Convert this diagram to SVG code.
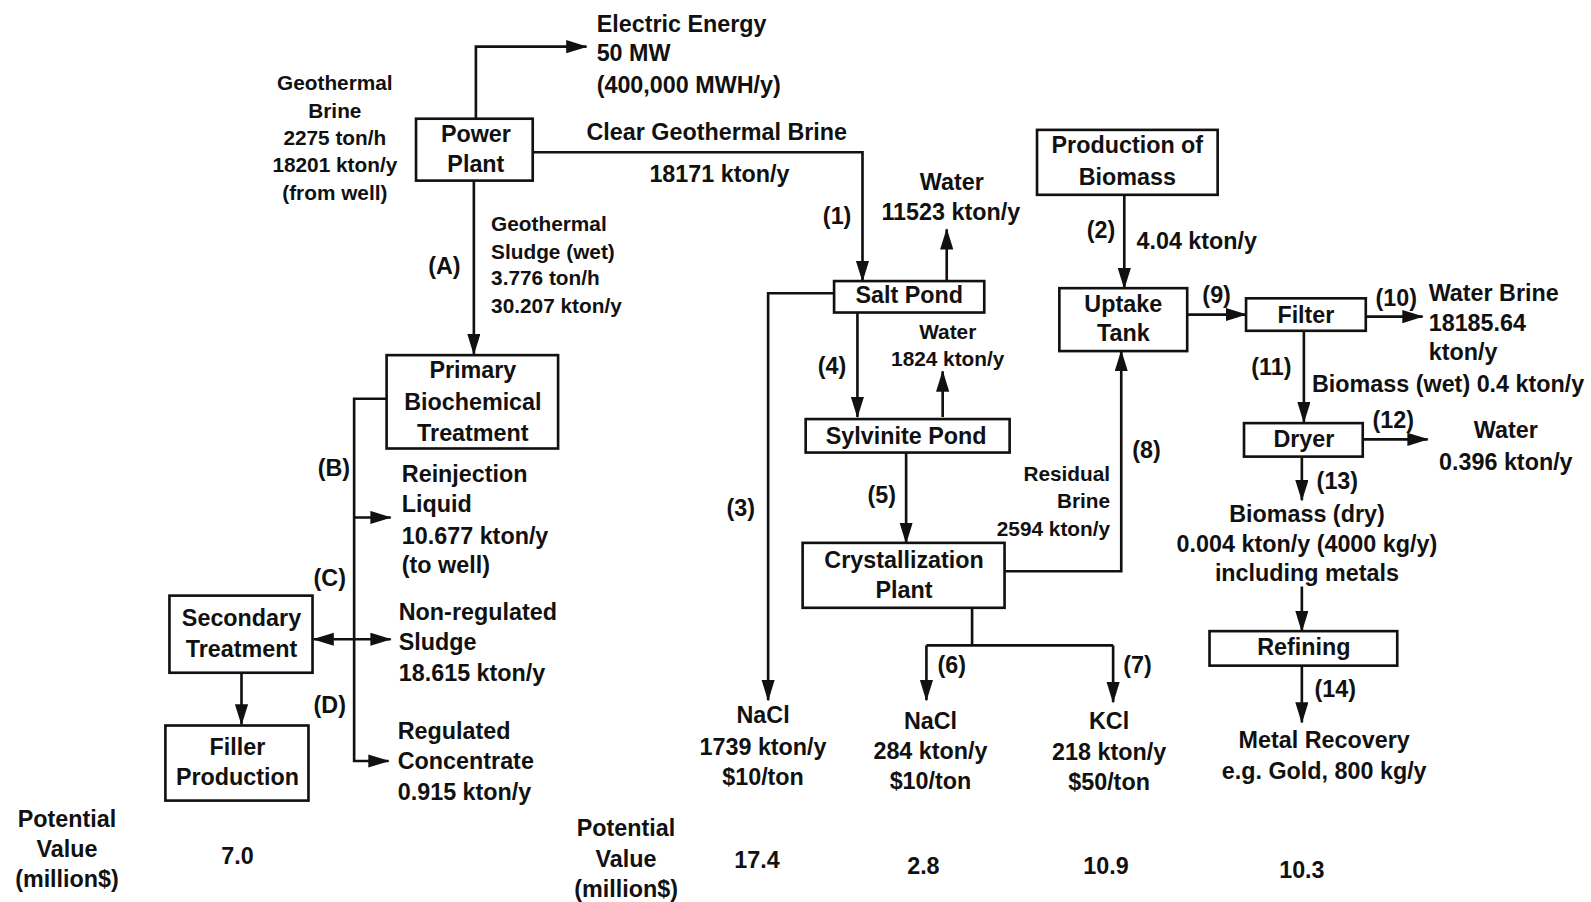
<svg xmlns="http://www.w3.org/2000/svg" width="1591" height="902" viewBox="0 0 1591 902">
<style>
text{font-family:"Liberation Sans",Arial,sans-serif;font-weight:bold;fill:#111;}
.t{font-size:23px;}
.s{font-size:20.5px;}
.c{text-anchor:middle;}
.r{text-anchor:end;}
.box{fill:#fff;stroke:#111;stroke-width:2.6;}
.ln{fill:none;stroke:#111;stroke-width:2.6;}
</style>
<defs>
<marker id="ah" markerUnits="userSpaceOnUse" markerWidth="22" markerHeight="14" refX="20" refY="6.5" orient="auto-start-reverse" viewBox="0 0 22 14">
<path d="M0,0 L21,6.5 L0,13 z" fill="#111"/>
</marker>
</defs>
<rect width="1591" height="902" fill="#fff"/>
<g transform="scale(1.0147)">
<g id="connectors">
<path class="ln" d="M469,117 V46 H578" marker-end="url(#ah)"/>
<path class="ln" d="M525,150 H850 V277" marker-end="url(#ah)"/>
<path class="ln" d="M467,178 V349" marker-end="url(#ah)"/>
<path class="ln" d="M933,277 V226" marker-end="url(#ah)"/>
<path class="ln" d="M822,289 H757 V690" marker-end="url(#ah)"/>
<path class="ln" d="M845,308 V411" marker-end="url(#ah)"/>
<path class="ln" d="M929,411 V366" marker-end="url(#ah)"/>
<path class="ln" d="M893,446 V535" marker-end="url(#ah)"/>
<path class="ln" d="M990,563 H1105 V346" marker-end="url(#ah)"/>
<path class="ln" d="M958,599 V636 M913,636 H1097"/>
<path class="ln" d="M913,636 V690" marker-end="url(#ah)"/>
<path class="ln" d="M1097,636 V692" marker-end="url(#ah)"/>
<path class="ln" d="M1108,192 V284" marker-end="url(#ah)"/>
<path class="ln" d="M1170,310 H1228" marker-end="url(#ah)"/>
<path class="ln" d="M1346,312 H1402" marker-end="url(#ah)"/>
<path class="ln" d="M1285,326 V416" marker-end="url(#ah)"/>
<path class="ln" d="M1343,433 H1407" marker-end="url(#ah)"/>
<path class="ln" d="M1283,450 V493" marker-end="url(#ah)"/>
<path class="ln" d="M1283,578 V622" marker-end="url(#ah)"/>
<path class="ln" d="M1283,656 V712" marker-end="url(#ah)"/>
<path class="ln" d="M381,393 H349 V750 H383" marker-end="url(#ah)"/>
<path class="ln" d="M349,510 H385" marker-end="url(#ah)"/>
<path class="ln" d="M309,630 H385" marker-start="url(#ah)" marker-end="url(#ah)"/>
<path class="ln" d="M238,663 V714" marker-end="url(#ah)"/>
</g>
<g id="power-plant"><rect class="box" x="410" y="117" width="115" height="61"/><text class="t c" x="469" y="140">Power</text><text class="t c" x="469" y="170">Plant</text></g>
<g id="salt-pond"><rect class="box" x="822" y="277" width="148" height="31"/><text class="t c" x="896" y="299">Salt Pond</text></g>
<g id="sylvinite-pond"><rect class="box" x="794" y="413" width="201" height="33"/><text class="t c" x="893" y="438">Sylvinite Pond</text></g>
<g id="crystallization-plant"><rect class="box" x="791" y="535" width="199" height="64"/><text class="t c" x="891" y="560">Crystallization</text><text class="t c" x="891" y="589">Plant</text></g>
<g id="production-biomass"><rect class="box" x="1022" y="128" width="178" height="64"/><text class="t c" x="1111" y="151">Production of</text><text class="t c" x="1111" y="182">Biomass</text></g>
<g id="uptake-tank"><rect class="box" x="1044" y="284" width="126" height="62"/><text class="t c" x="1107" y="307">Uptake</text><text class="t c" x="1107" y="336">Tank</text></g>
<g id="filter"><rect class="box" x="1228" y="294" width="118" height="32"/><text class="t c" x="1287" y="318">Filter</text></g>
<g id="dryer"><rect class="box" x="1226" y="417" width="117" height="33"/><text class="t c" x="1285" y="441">Dryer</text></g>
<g id="refining"><rect class="box" x="1192" y="622" width="185" height="34"/><text class="t c" x="1285" y="646">Refining</text></g>
<g id="primary-treatment"><rect class="box" x="381" y="350" width="169" height="92"/><text class="t c" x="466" y="373">Primary</text><text class="t c" x="466" y="404">Biochemical</text><text class="t c" x="466" y="435">Treatment</text></g>
<g id="secondary-treatment"><rect class="box" x="167" y="587" width="141" height="76"/><text class="t c" x="238" y="617">Secondary</text><text class="t c" x="238" y="647">Treatment</text></g>
<g id="filler-production"><rect class="box" x="163" y="715" width="141" height="74"/><text class="t c" x="234" y="744">Filler</text><text class="t c" x="234" y="774">Production</text></g>
<g id="labels">
<text class="t" x="588" y="32">Electric Energy</text>
<text class="t" x="588" y="60">50 MW</text>
<text class="t" x="588" y="92">(400,000 MWH/y)</text>
<text class="s c" x="330" y="89">Geothermal</text>
<text class="s c" x="330" y="116">Brine</text>
<text class="s c" x="330" y="143">2275 ton/h</text>
<text class="s c" x="330" y="170">18201 kton/y</text>
<text class="s c" x="330" y="197">(from well)</text>
<text class="t" x="578" y="138">Clear Geothermal Brine</text>
<text class="t c" x="709" y="179">18171 kton/y</text>
<text class="t c" x="825" y="221">(1)</text>
<text class="t c" x="938" y="187">Water</text>
<text class="t c" x="937" y="217">11523 kton/y</text>
<text class="s c" x="934" y="334">Water</text>
<text class="s c" x="934" y="361">1824 kton/y</text>
<text class="t c" x="820" y="369">(4)</text>
<text class="t c" x="730" y="509">(3)</text>
<text class="t c" x="869" y="496">(5)</text>
<text class="t c" x="1130" y="451">(8)</text>
<text class="s r" x="1094" y="474">Residual</text>
<text class="s r" x="1094" y="501">Brine</text>
<text class="s r" x="1094" y="528">2594 kton/y</text>
<text class="t c" x="938" y="663">(6)</text>
<text class="t c" x="1121" y="663">(7)</text>
<text class="t c" x="752" y="713">NaCl</text>
<text class="t c" x="752" y="744">1739 kton/y</text>
<text class="t c" x="752" y="774">$10/ton</text>
<text class="t c" x="917" y="718">NaCl</text>
<text class="t c" x="917" y="748">284 kton/y</text>
<text class="t c" x="917" y="778">$10/ton</text>
<text class="t c" x="1093" y="718">KCl</text>
<text class="t c" x="1093" y="749">218 kton/y</text>
<text class="t c" x="1093" y="779">$50/ton</text>
<text class="t c" x="1085" y="235">(2)</text>
<text class="t" x="1120" y="245">4.04 kton/y</text>
<text class="t c" x="1199" y="299">(9)</text>
<text class="t c" x="1376" y="302">(10)</text>
<text class="t" x="1408" y="297">Water Brine</text>
<text class="t" x="1408" y="326">18185.64</text>
<text class="t" x="1408" y="355">kton/y</text>
<text class="t c" x="1253" y="370">(11)</text>
<text class="t" x="1293" y="386">Biomass (wet) 0.4 kton/y</text>
<text class="t c" x="1373" y="422">(12)</text>
<text class="t c" x="1484" y="432">Water</text>
<text class="t c" x="1484" y="463">0.396 kton/y</text>
<text class="t c" x="1318" y="482">(13)</text>
<text class="t c" x="1288" y="514">Biomass (dry)</text>
<text class="t c" x="1288" y="544">0.004 kton/y (4000 kg/y)</text>
<text class="t c" x="1288" y="573">including metals</text>
<text class="t c" x="1316" y="687">(14)</text>
<text class="t c" x="1305" y="737">Metal Recovery</text>
<text class="t c" x="1305" y="768">e.g. Gold, 800 kg/y</text>
<text class="t c" x="438" y="270">(A)</text>
<text class="s" x="484" y="228">Geothermal</text>
<text class="s" x="484" y="255">Sludge (wet)</text>
<text class="s" x="484" y="281">3.776 ton/h</text>
<text class="s" x="484" y="308">30.207 kton/y</text>
<text class="t c" x="329" y="469">(B)</text>
<text class="t" x="396" y="475">Reinjection</text>
<text class="t" x="396" y="505">Liquid</text>
<text class="t" x="396" y="536">10.677 kton/y</text>
<text class="t" x="396" y="565">(to well)</text>
<text class="t c" x="325" y="578">(C)</text>
<text class="t" x="393" y="611">Non-regulated</text>
<text class="t" x="393" y="641">Sludge</text>
<text class="t" x="393" y="671">18.615 kton/y</text>
<text class="t c" x="325" y="703">(D)</text>
<text class="t" x="392" y="728">Regulated</text>
<text class="t" x="392" y="758">Concentrate</text>
<text class="t" x="392" y="788">0.915 kton/y</text>
<text class="t c" x="66" y="815">Potential</text>
<text class="t c" x="66" y="845">Value</text>
<text class="t c" x="66" y="874">(million$)</text>
<text class="t c" x="234" y="851">7.0</text>
<text class="t c" x="617" y="824">Potential</text>
<text class="t c" x="617" y="854">Value</text>
<text class="t c" x="617" y="884">(million$)</text>
<text class="t c" x="746" y="855">17.4</text>
<text class="t c" x="910" y="861">2.8</text>
<text class="t c" x="1090" y="861">10.9</text>
<text class="t c" x="1283" y="865">10.3</text>
</g>
</g>
</svg>
